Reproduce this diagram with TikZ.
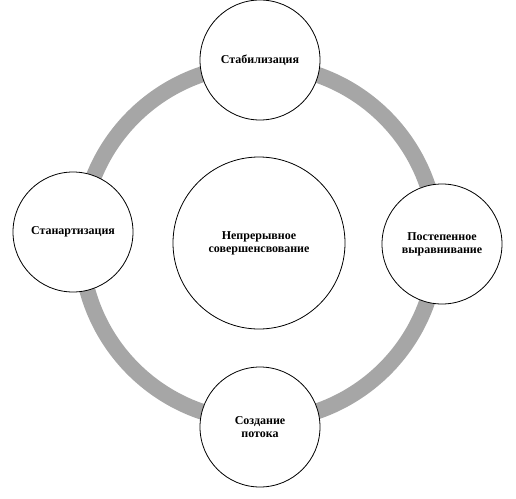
\documentclass[tikz,border=0pt]{standalone}
\usepackage{fontspec}
\setmainfont{Liberation Serif}

\begin{document}
\begin{tikzpicture}
[
x=1pt, y=-1pt,
stage/.style={
% The shape:
circle,
% The size:
minimum size=120pt,
% The border:
line width=0.8pt,
draw=black,
% The filling:
fill=white,
% The text:
align=center,
font=\fontsize{12}{13}\selectfont\bfseries,
},
core/.style={
% The shape:
circle,
% The size:
minimum size=172pt,
% The border:
line width=0.8pt,
draw=black,
% The filling:
fill=white,
% The text:
align=center,
font=\fontsize{12}{13}\selectfont\bfseries,
},
ring/.style={
% The width:
line width=16pt,
% The colour:
draw=black!35,
}
]
    \useasboundingbox (0, 0) rectangle (516, 498);
    \coordinate (m) at (259, 243);
    \draw[ring] (m) circle (178);
    \node[core] (center) at (m) {Непрерывное\\совершенсвование};
    \node[stage] (top) at (260, 60) {Стабилизация};
    \node[stage] (right) at (442, 244) {Постепенное\\выравнивание};
    \node[stage] (bottom) at (260, 427) {Создание\\потока};
    \node[stage] (left) at (73, 232) {Станартизация};
\end{tikzpicture}
\end{document}
